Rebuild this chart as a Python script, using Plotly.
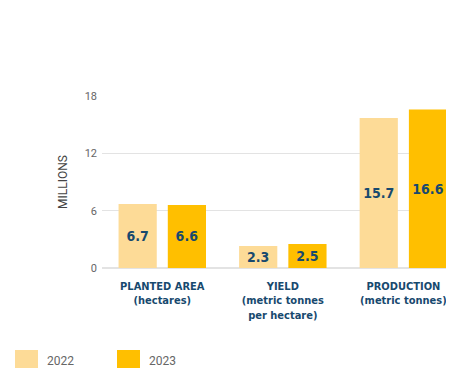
import plotly.graph_objects as go

categories = ["PLANTED AREA<br>(hectares)", "YIELD<br>(metric tonnes<br>per hectare)", "PRODUCTION<br>(metric tonnes)"]
values_2022 = [6.7, 2.3, 15.7]
values_2023 = [6.6, 2.5, 16.6]
years = ["2022", "2023"]
colors = ["#FDDB97", "#FFBF00"]

condensed = "DejaVu Sans Condensed, Roboto"

# page has 8px body margin, so the figure is 8px smaller than the window
W, H = 446, 360
PL, PT, PW, PH = 94, 88, 352, 172   # plot area in figure pixels

fig = go.Figure()

for year, vals, col in zip(years, [values_2022, values_2023], colors):
    fig.add_trace(
        go.Bar(
            x=[0, 1, 2],
            y=vals,
            name=year,
            marker=dict(color=col, line=dict(width=0)),
            text=["<b>%.1f</b>" % v for v in vals],
            textposition="inside",
            insidetextanchor="middle",
            textfont=dict(family=condensed, size=14, color="#17496E"),
            showlegend=False,
        )
    )

# legend drawn by hand (big swatches)
for i, (year, col) in enumerate(zip(years, colors)):
    x0 = 7 + i * 102
    fig.add_shape(type="rect", xref="paper", yref="paper",
                  x0=(x0 - PL) / PW, x1=(x0 + 23 - PL) / PW,
                  y0=(PT + PH - 360) / PH, y1=(PT + PH - 342) / PH,
                  fillcolor=col, line=dict(width=0))
    fig.add_annotation(text=year, xref="paper", yref="paper",
                       x=(x0 + 30 - PL) / PW, y=(PT + PH - 353) / PH,
                       xanchor="left", yanchor="middle", showarrow=False,
                       font=dict(family="Roboto", size=12, color="#666666"))

fig.update_layout(
    width=W,
    height=H,
    margin=dict(l=PL, r=W - PL - PW, t=PT, b=H - PT - PH),
    plot_bgcolor="white",
    paper_bgcolor="white",
    barmode="group",
    bargap=0.183,
    bargroupgap=0.224,
    xaxis=dict(
        range=[-0.5, 2.42],
        tickmode="array",
        tickvals=[0, 1, 2],
        ticktext=["<b>%s</b>" % c for c in categories],
        tickfont=dict(family=condensed, size=11, color="#17496E"),
        showgrid=False,
        zeroline=False,
        showline=False,
        ticks="",
        ticklabelstandoff=10,
        automargin=False,
    ),
    yaxis=dict(
        range=[0, 18],
        tickvals=[0, 6, 12, 18],
        tickfont=dict(family="Roboto", size=11, color="#666666"),
        gridcolor="#E3E3E3",
        gridwidth=1,
        zeroline=True,
        zerolinecolor="#E3E3E3",
        title=dict(text="MILLIONS", font=dict(family="Roboto", size=12, color="#444444"), standoff=14),
        ticks="",
        ticklabelstandoff=4,
        automargin=False,
    ),
)

fig.write_html("out.html")
